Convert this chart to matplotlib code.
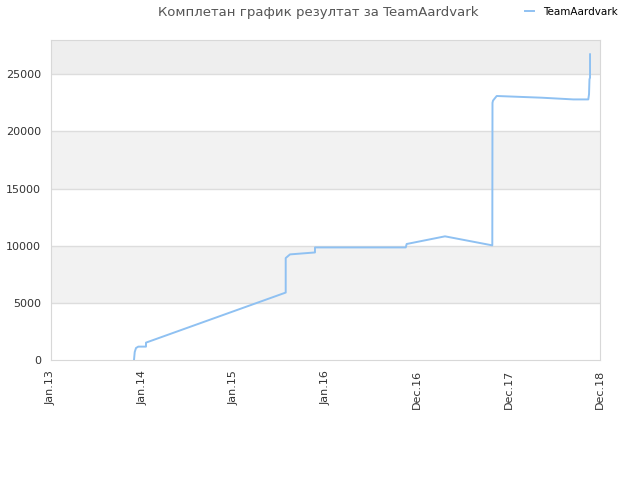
import matplotlib

matplotlib.use("Agg")
import matplotlib.pyplot as plt

TITLE = "Комплетан график резултат за TeamAardvark"
SERIES = "TeamAardvark"

TICK_LABELS = ["Jan.13", "Jan.14", "Jan.15", "Jan.16", "Dec.16", "Dec.17", "Dec.18"]

# x in units of tick spacing (0 = Jan.13 ... 6 = Dec.18)
x_pos = [0.907, 0.915, 0.929, 0.954, 1.038, 1.038, 2.565, 2.565, 2.612, 2.885,
         2.885, 3.877, 3.887, 4.306, 4.823, 4.825, 4.831, 4.871, 5.363, 5.708,
         5.872, 5.880, 5.885, 5.891, 5.891]
score = [0, 700, 1050, 1170, 1170, 1520, 5900, 8920, 9240, 9410,
         9850, 9850, 10150, 10820, 10030, 22500, 22700, 23100, 22950, 22800,
         22800, 23250, 24560, 24700, 26750]

YMAX = 28000

fig = plt.figure(figsize=(6.4, 4.8), dpi=100)
ax = fig.add_axes([0.0797, 0.25, 0.8578, 0.6667])

# alternating horizontal bands
for lo, hi in [(5000, 10000), (15000, 20000)]:
    ax.axhspan(lo, hi, color="#f2f2f2", zorder=0, lw=0)
ax.axhspan(25000, YMAX, color="#eeeeee", zorder=0, lw=0)
for yv in range(5000, 30000, 5000):
    ax.axhline(yv, color="#dddddd", lw=1, zorder=1)

ax.plot(x_pos, score, color="#8fc1f2", lw=1.4, label=SERIES, zorder=3)

ax.set_xlim(0, 6)
ax.set_ylim(0, YMAX)
ax.set_xticks(range(len(TICK_LABELS)))
ax.set_xticklabels(TICK_LABELS, rotation=90)
ax.set_yticks(range(0, 30000, 5000))
ax.tick_params(length=0, labelsize=8, labelcolor="#333333", pad=7)
for s in ax.spines.values():
    s.set_color("#d8d8d8")

fig.text(0.497, 0.974, TITLE, ha="center", va="center", fontsize=9.5, color="#555555")
fig.legend(loc="center right", bbox_to_anchor=(0.972, 0.975), frameon=False,
           fontsize=7.5, handlelength=0.8, handletextpad=0.9, borderaxespad=0)

fig.savefig("out.png", dpi=100)
